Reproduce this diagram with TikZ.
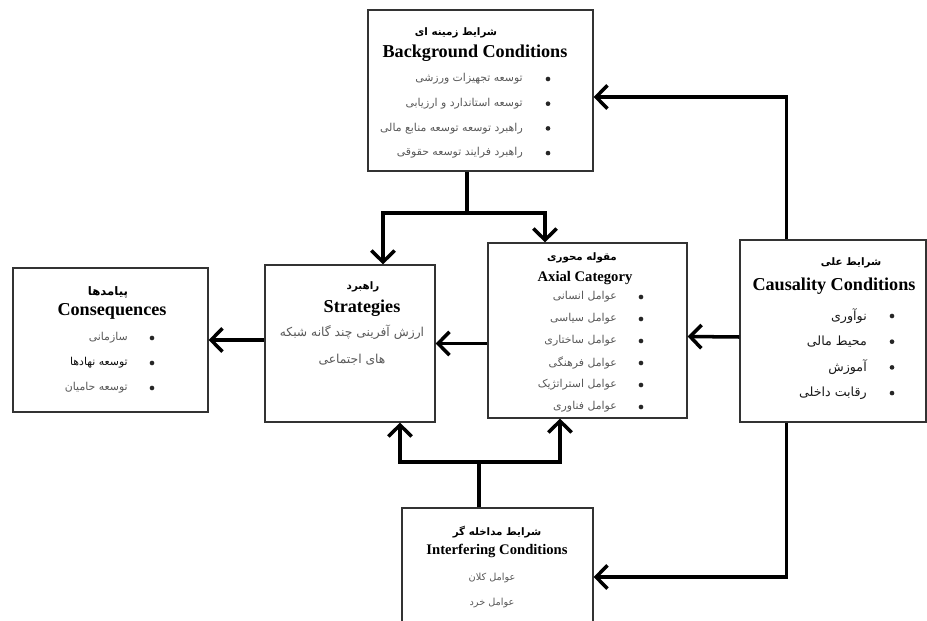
\documentclass[tikz,border=0pt]{standalone}
\usepackage{fontspec}
\setmainfont{Liberation Serif}
\newfontfamily\fa[Script=Arabic]{DejaVu Sans}
\TeXXeTstate=1
\usetikzlibrary{arrows.meta, positioning}

\begin{document}
\begin{tikzpicture}[x=0.3mm, y=-0.3mm]
	\tikzstyle{Box} = [rectangle, draw=black!80, line width=1.1pt, inner sep=0pt]
	\tikzstyle{link} = [line width=3pt]
	\tikzstyle{arrow} = [line width=3pt, -{Straight Barb[length=3.4mm, width=7mm]}]
	\tikzstyle{faTitle} = [font=\fa\bfseries\fontsize{8.8}{11}\selectfont, inner sep=0pt]
	\tikzstyle{enTitle} = [font=\bfseries\fontsize{15.5}{18}\selectfont, inner sep=0pt]
	\tikzstyle{enSmall} = [font=\bfseries\fontsize{12.5}{15}\selectfont, inner sep=0pt]
	\tikzstyle{item} = [font=\fa\fontsize{9.3}{11}\selectfont, text=black!65, inner sep=0pt]
	\tikzstyle{dot} = [circle, fill=black!85, inner sep=0pt, minimum size=1.4mm]

	\useasboundingbox (0,0) rectangle (927,621);

	% boxes
	\node (bg) [Box, minimum width=67.5mm, minimum height=48.3mm] at (480.5,90.5) {};
	\node (csq) [Box, minimum width=58.5mm, minimum height=43.2mm] at (110.5,340) {};
	\node (str) [Box, minimum width=51mm, minimum height=47.1mm] at (350,343.5) {};
	\node (ax) [Box, minimum width=59.7mm, minimum height=52.5mm] at (587.5,330.5) {};
	\node (cc) [Box, minimum width=55.8mm, minimum height=54.6mm] at (833,331) {};
	\node (ic) [Box, minimum width=57.3mm, minimum height=36.6mm] at (497.5,569) {};

	% background conditions
	\node (bgfa) [faTitle] at (456,33) {\beginR شرایط زمینه ای\endR};
	\node (bgen) [enTitle] at (475,53) {Background Conditions};
	\foreach \t [count=\i] in {توسعه تجهیزات ورزشی, توسعه استاندارد و ارزیابی, راهبرد توسعه توسعه منابع مالی, راهبرد فرایند توسعه حقوقی}{
		\node (bgi\i) [item, anchor=east] at (523,{79+24.7*(\i-1)}) {\beginR\t\endR};
		\node (bgd\i) [dot] at (548,{79+24.7*(\i-1)}) {};
	}

	% consequences
	\node (csqfa) [faTitle, font=\fa\bfseries\fontsize{10}{12}\selectfont] at (108,292) {\beginR پیامدها\endR};
	\node (csqen) [enTitle] at (112,311) {Consequences};
	\foreach \t/\c [count=\i] in {سازمانی/65, توسعه نهادها/95, توسعه حامیان/65}{
		\node (csqi\i) [item, text=black!\c, anchor=east] at (128,{338+25*(\i-1)}) {\beginR\t\endR};
		\node (csqd\i) [dot] at (152,{338+25*(\i-1)}) {};
	}

	% strategies
	\node (strfa) [faTitle] at (363,287) {\beginR راهبرد\endR};
	\node (stren) [enTitle] at (362,308) {Strategies};
	\node (stri1) [item, font=\fa\fontsize{10.5}{12}\selectfont] at (352,332) {\beginR ارزش آفرینی چند گانه شبکه\endR};
	\node (stri2) [item, font=\fa\fontsize{10.5}{12}\selectfont] at (352,360) {\beginR های اجتماعی\endR};

	% axial category
	\node (axfa) [faTitle] at (582,258) {\beginR مقوله محوری\endR};
	\node (axen) [enSmall] at (585,278) {Axial Category};
	\foreach \t [count=\i] in {عوامل انسانی, عوامل سیاسی, عوامل ساختاری, عوامل فرهنگی, عوامل استراتژیک, عوامل فناوری}{
		\node (axi\i) [item, anchor=east] at (617,{297+22*(\i-1)}) {\beginR\t\endR};
		\node (axd\i) [dot] at (641,{297+22*(\i-1)}) {};
	}

	% causality conditions
	\node (ccfa) [faTitle] at (851,263) {\beginR شرایط علی\endR};
	\node (ccen) [enTitle] at (834,286) {Causality Conditions};
	\foreach \t [count=\i] in {نوآوری, محیط مالی, آموزش, رقابت داخلی}{
		\node (cci\i) [item, font=\fa\fontsize{10.8}{12}\selectfont, text=black!90, anchor=east] at (867,{316+25.7*(\i-1)}) {\beginR\t\endR};
		\node (ccd\i) [dot] at (892,{316+25.7*(\i-1)}) {};
	}

	% interfering conditions
	\node (icfa) [faTitle] at (497,532) {\beginR شرایط مداخله گر\endR};
	\node (icen) [enSmall] at (497,551) {Interfering Conditions};
	\node (ici1) [item, font=\fa\fontsize{8.3}{10}\selectfont] at (492,578) {\beginR عوامل کلان\endR};
	\node (ici2) [item, font=\fa\fontsize{8.3}{10}\selectfont] at (492,603) {\beginR عوامل خرد\endR};

	% connectors
	\draw [arrow] ([xshift=14.1mm]cc.north west) |- ([yshift=-1.95mm]bg.east);
	\draw [arrow] ([xshift=14.1mm]cc.south west) |- ([yshift=-2.4mm]ic.east);
	\draw [arrow] ([yshift=-1.8mm]cc.west) -- ([yshift=-1.8mm]ax.east);
	\draw [arrow] (ax.west |- str.east) -- (str.east);
	\draw [arrow] (str.west |- csq.east) -- (csq.east);

	\coordinate (split) at (467,213);
	\draw [link] (split |- bg.south) -- (split);
	\draw [arrow] (split) -| ([xshift=9.9mm]str.north);
	\draw [arrow] (split) -| ([xshift=-12.75mm]ax.north);

	\coordinate (merge) at (479,462);
	\draw [link] (merge |- ic.north) -- (merge);
	\draw [arrow] (merge) -| ([xshift=15mm]str.south);
	\draw [arrow] (merge) -| ([xshift=-8.25mm]ax.south);
\end{tikzpicture}
\end{document}
